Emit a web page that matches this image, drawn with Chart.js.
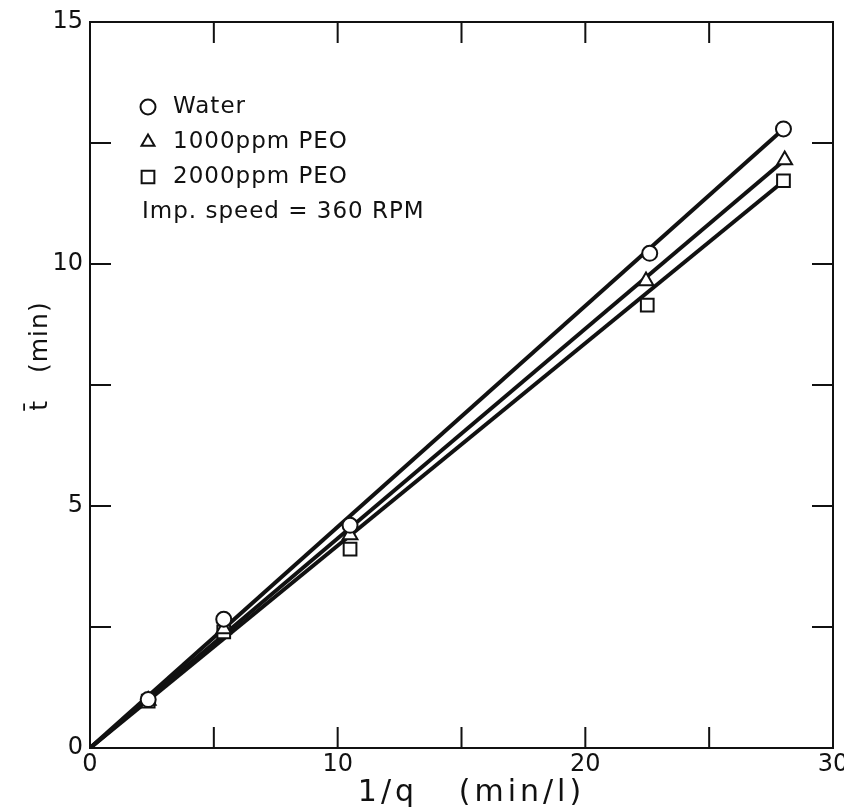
<!DOCTYPE html>
<html>
<head>
<meta charset="utf-8">
<script src="https://cdn.jsdelivr.net/npm/chart.js@4.4.1/dist/chart.umd.min.js"></script>
<style>
  html, body { margin: 0; padding: 0; background: #fff; }
  #wrap { width: 844px; height: 812px; }
</style>
</head>
<body>
<div id="wrap"><canvas id="myChart" width="844" height="812"></canvas></div>
<script>
// --- data ---
const waterX = [2.35, 5.4, 10.5, 22.6, 28.0];
const waterY = [1.0, 2.66, 4.6, 10.22, 12.79];
const peo1000X = [2.35, 5.4, 10.5, 22.45, 28.05];
const peo1000Y = [0.98, 2.46, 4.4, 9.65, 12.15];
const peo2000X = [2.35, 5.4, 10.5, 22.5, 28.0];
const peo2000Y = [0.97, 2.4, 4.11, 9.15, 11.72];

// straight lines through the origin
const fitX = [0, 28.0];
const waterFit = [0, 12.79];
const peo1000Fit = [0, 12.13];
const peo2000Fit = [0, 11.71];

// labelled ticks
const xTicks = [0, 10, 20, 30];
const yTicks = [0, 5, 10, 15];

const legendLabels = ['Water', '1000ppm PEO', '2000ppm PEO'];
const legendStyles = ['circle', 'triangle', 'rect'];
const noteText = 'Imp. speed = 360 RPM';
const xTitle = '1/q   (min/l)';
const yTitle = 't\u0304   (min)';

const INK = '#111';
const FONT = '"DejaVu Sans", sans-serif';

function pts(xs, ys) {
    return xs.map((x, i) => ({ x: x, y: ys[i] }));
}

function markerSet(label, xs, ys, style, r) {
    return {
        label: label,
        data: pts(xs, ys),
        showLine: false,
        pointStyle: style,
        pointRadius: r,
        pointBackgroundColor: '#fff',
        pointBorderColor: INK,
        pointBorderWidth: 2,
        order: 1
    };
}

function lineSet(ys) {
    return {
        data: pts(fitX, ys),
        showLine: true,
        borderColor: INK,
        borderWidth: 4,
        pointRadius: 0,
        fill: false,
        order: 2
    };
}

// frame, inward ticks, titles and the legend block
const framePlugin = {
    id: 'frame',
    afterDatasetsDraw(chart) {
        const ctx = chart.ctx;
        const a = chart.chartArea;
        const xs = chart.scales.x, ys = chart.scales.y;
        ctx.save();
        ctx.strokeStyle = INK;
        ctx.lineWidth = 2;
        ctx.strokeRect(a.left, a.top, a.right - a.left, a.bottom - a.top);

        const len = 21;
        ctx.beginPath();
        xs.ticks.forEach(t => {
            if (t.value <= xs.min || t.value >= xs.max) return;
            const px = xs.getPixelForValue(t.value);
            ctx.moveTo(px, a.bottom); ctx.lineTo(px, a.bottom - len);
            ctx.moveTo(px, a.top); ctx.lineTo(px, a.top + len);
        });
        ys.ticks.forEach(t => {
            if (t.value <= ys.min || t.value >= ys.max) return;
            const py = ys.getPixelForValue(t.value);
            ctx.moveTo(a.left, py); ctx.lineTo(a.left + len, py);
            ctx.moveTo(a.right, py); ctx.lineTo(a.right - len, py);
        });
        ctx.stroke();

        // axis titles
        ctx.fillStyle = INK;
        ctx.textAlign = 'center';
        ctx.textBaseline = 'middle';
        ctx.font = '30px ' + FONT;
        ctx.letterSpacing = '4px';
        ctx.fillText(xTitle, (a.left + a.right) / 2 + 10, 793);

        ctx.save();
        ctx.translate(40, 356);
        ctx.rotate(-Math.PI / 2);
        ctx.font = '25px ' + FONT;
        ctx.letterSpacing = '1px';
        ctx.fillText(yTitle, 0, 0);
        ctx.restore();

        // legend
        ctx.letterSpacing = '1px';
        ctx.font = '23px ' + FONT;
        ctx.textAlign = 'left';
        const rows = [107, 142, 177];
        rows.forEach((y, i) => {
            ctx.fillStyle = '#fff';
            ctx.lineWidth = 2;
            Chart.helpers.drawPoint(ctx, {
                pointStyle: legendStyles[i], rotation: 0,
                radius: legendStyles[i] === 'rect' ? 9 : 7.5, borderWidth: 2
            }, 148, y);
            ctx.fillStyle = INK;
            ctx.fillText(legendLabels[i], 173, y);
        });
        ctx.fillText(noteText, 142, 212);
        ctx.restore();
    }
};

const ctx = document.getElementById('myChart').getContext('2d');
new Chart(ctx, {
    type: 'scatter',
    data: {
        datasets: [
            markerSet('Water', waterX, waterY, 'circle', 7.5),
            markerSet('1000ppm PEO', peo1000X, peo1000Y, 'triangle', 8.5),
            markerSet('2000ppm PEO', peo2000X, peo2000Y, 'rect', 9),
            lineSet(waterFit),
            lineSet(peo1000Fit),
            lineSet(peo2000Fit)
        ]
    },
    options: {
        responsive: false,
        animation: false,
        events: [],
        layout: { padding: { top: 22, right: 7, left: 0, bottom: 0 } },
        plugins: { legend: { display: false }, tooltip: { enabled: false } },
        scales: {
            x: {
                type: 'linear', min: 0, max: 30,
                grid: { display: false, drawTicks: false },
                border: { display: false },
                ticks: {
                    stepSize: 5, padding: 2, color: INK, maxRotation: 0,
                    font: { family: FONT, size: 24 },
                    callback: v => xTicks.includes(v) ? String(v) : ''
                },
                afterFit(s) { s.height = 64; s.paddingLeft = 0; s.paddingRight = 0; }
            },
            y: {
                type: 'linear', min: 0, max: 15,
                grid: { display: false, drawTicks: false },
                border: { display: false },
                ticks: {
                    stepSize: 2.5, padding: 7, color: INK,
                    font: { family: FONT, size: 24 },
                    callback: v => yTicks.includes(v) ? String(v) : ''
                },
                afterFit(s) { s.width = 90; s.paddingTop = 0; s.paddingBottom = 0; }
            }
        }
    },
    plugins: [framePlugin]
});
</script>
</body>
</html>
